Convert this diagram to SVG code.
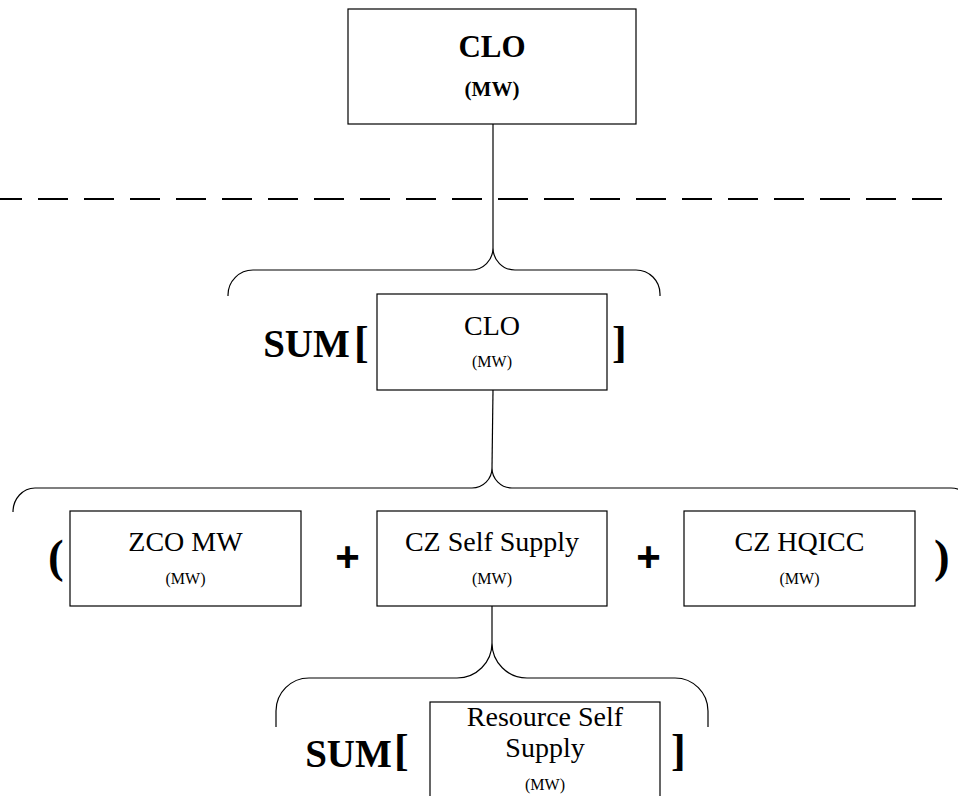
<svg xmlns="http://www.w3.org/2000/svg" width="958" height="796" viewBox="0 0 958 796">
<style>
  .box { fill: #fff; stroke: #000; stroke-width: 1.2; }
  .t { font-family: "Liberation Serif", serif; fill: #000; text-anchor: middle; }
  .title { font-size: 28px; }
  .unit { font-size: 16px; }
  .b { font-weight: bold; }
  .sum { font-family: "Liberation Serif", serif; font-weight: bold; font-size: 39px; text-anchor: middle; }
  .br { font-family: "Liberation Serif", serif; font-weight: bold; font-size: 44px; }
  .par { font-family: "Liberation Serif", serif; font-weight: bold; font-size: 47px; }
  .plus { font-family: "Liberation Sans", Arial, sans-serif; font-weight: bold; font-size: 42px; text-anchor: middle; }
  .conn { fill: none; stroke: #000; stroke-width: 1.2; }
</style>
<rect width="958" height="796" fill="#fff"/>

<g id="divider">
  <line x1="-8" y1="199" x2="958" y2="199" stroke="#000" stroke-width="1.8" stroke-dasharray="30 16"/>
</g>

<g id="connectors">
  <path class="conn" d="M 493 124 L 493 248"/>
  <path class="conn" d="M 228 296 L 228 295 A 25 25 0 0 1 253 270 L 471 270 A 22 22 0 0 0 493 248 A 22 22 0 0 0 515 270 L 636 270 A 24 24 0 0 1 660 294 L 660 296"/>
  <path class="conn" d="M 493 390 L 492 468"/>
  <path class="conn" d="M 13 512 A 22 24 0 0 1 35 488 L 472 488 A 20 20 0 0 0 492 468 A 20 20 0 0 0 512 488 L 951 488 A 22 24 0 0 1 973 512"/>
  <path class="conn" d="M 492 606 L 492 643"/>
  <path class="conn" d="M 276 727 L 276 711 A 33 33 0 0 1 309 678 L 457 678 A 35 35 0 0 0 492 643 A 35 35 0 0 0 527 678 L 675 678 A 33 33 0 0 1 708 711 L 708 727"/>
</g>

<g id="node-clo-top">
  <rect class="box" x="348" y="9" width="288" height="115"/>
  <text class="t b" x="492" y="57" font-size="31">CLO</text>
  <text class="t b" x="492" y="96" font-size="21">(MW)</text>
</g>

<g id="sum1-operators">
  <text class="sum" x="306.5" y="357">SUM</text>
  <text class="br" x="354" y="357">[</text>
  <text class="br" x="612" y="357">]</text>
</g>

<g id="node-clo">
  <rect class="box" x="377" y="294" width="230" height="96"/>
  <text class="t title" x="492" y="335">CLO</text>
  <text class="t unit" x="492" y="367">(MW)</text>
</g>

<g id="row-operators">
  <text class="par" x="48" y="572">(</text>
  <text class="par" x="934" y="572">)</text>
  <text class="plus" x="347.5" y="571">+</text>
  <text class="plus" x="648.5" y="571">+</text>
</g>

<g id="node-zco">
  <rect class="box" x="70" y="511" width="231" height="95"/>
  <text class="t title" x="185.5" y="551">ZCO MW</text>
  <text class="t unit" x="185.5" y="584">(MW)</text>
</g>

<g id="node-cz-self-supply">
  <rect class="box" x="377" y="511" width="230" height="95"/>
  <text class="t title" x="492" y="551">CZ Self Supply</text>
  <text class="t unit" x="492" y="584">(MW)</text>
</g>

<g id="node-cz-hqicc">
  <rect class="box" x="684" y="511" width="231" height="95"/>
  <text class="t title" x="799.5" y="551">CZ HQICC</text>
  <text class="t unit" x="799.5" y="584">(MW)</text>
</g>

<g id="sum2-operators">
  <text class="sum" x="348.5" y="767">SUM</text>
  <text class="br" x="394" y="765">[</text>
  <text class="br" x="671" y="765">]</text>
</g>

<g id="node-resource-self-supply">
  <rect class="box" x="430" y="702" width="230" height="110"/>
  <text class="t title" x="545" y="726">Resource Self</text>
  <text class="t title" x="545" y="757">Supply</text>
  <text class="t unit" x="545" y="790">(MW)</text>
</g>
</svg>
